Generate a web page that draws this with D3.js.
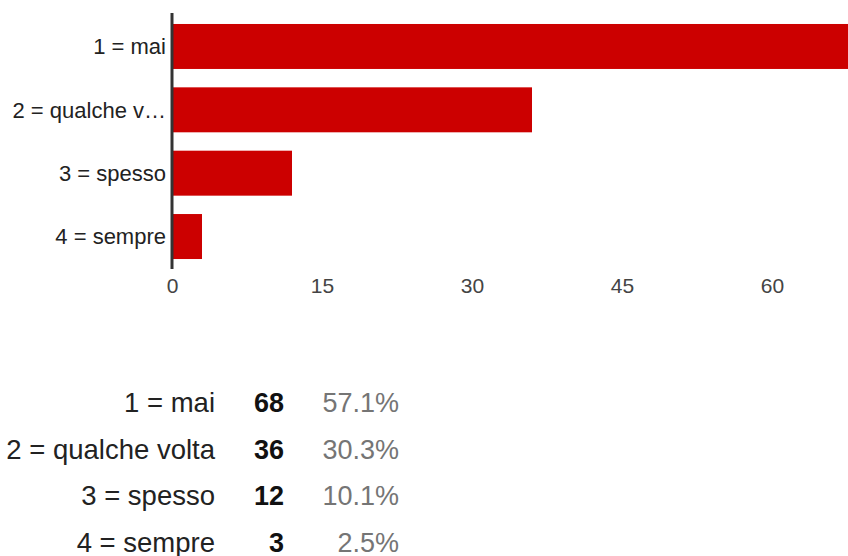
<!DOCTYPE html>
<html>
<head>
<meta charset="utf-8">
<script src="https://d3js.org/d3.v7.min.js"></script>
<style>
  body { margin: 0; background: #fff; }
  svg { display: block; font-family: Arial, "Liberation Sans", sans-serif; }
</style>
</head>
<body>
<div id="chart"></div>
<script>
// data
var categories = ['1 = mai', '2 = qualche volta', '3 = spesso', '4 = sempre'];
var shortLabels = ['1 = mai', '2 = qualche v\u2026', '3 = spesso', '4 = sempre'];
var counts = [68, 36, 12, 3];
var percents = ['57.1%', '30.3%', '10.1%', '2.5%'];
var xTicks = [0, 15, 30, 45, 60];

var W = 848, H = 556;

var svg = d3.select('#chart')
    .append('svg')
    .attr('width', W)
    .attr('height', H);

var x = d3.scaleLinear()
    .domain([0, 60])
    .range([172, 772]);

var y = d3.scaleBand()
    .domain(categories)
    .range([14.8, 268.2])
    .paddingInner(0.29)
    .paddingOuter(0.145);

// bars
svg.selectAll('.bar')
    .data(counts)
    .enter()
    .append('rect')
    .attr('class', 'bar')
    .attr('x', x(0))
    .attr('y', function(d, i) { return y(categories[i]); })
    .attr('width', function(d) { return x(d) - x(0); })
    .attr('height', y.bandwidth())
    .attr('fill', '#cc0000');

// category labels
svg.selectAll('.cat')
    .data(shortLabels)
    .enter()
    .append('text')
    .attr('class', 'cat')
    .attr('x', 166)
    .attr('y', function(d, i) { return y(categories[i]) + y.bandwidth() / 2; })
    .attr('dy', '0.35em')
    .attr('text-anchor', 'end')
    .style('font-size', '22px')
    .attr('fill', '#222')
    .text(function(d) { return d; });

// x axis labels, no domain line
var xAxis = svg.append('g')
    .attr('transform', 'translate(0,' + 293 + ')')
    .call(d3.axisBottom(x).tickValues(xTicks).tickSize(0).tickPadding(0));
xAxis.select('.domain').remove();
xAxis.selectAll('text')
    .attr('dy', '0')
    .attr('y', 0)
    .style('font-size', '21px')
    .style('font-family', 'Arial, "Liberation Sans", sans-serif')
    .attr('fill', '#444');

// baseline
svg.append('line')
    .attr('x1', x(0)).attr('x2', x(0))
    .attr('y1', 13).attr('y2', 269)
    .attr('stroke', '#333')
    .attr('stroke-width', 3);

// summary table
var rowY = d3.scalePoint()
    .domain(categories)
    .range([412, 551.5]);

var rows = svg.selectAll('.row')
    .data(categories)
    .enter()
    .append('g')
    .attr('class', 'row')
    .attr('transform', function(d) { return 'translate(0,' + rowY(d) + ')'; });

rows.append('text')
    .attr('x', 215)
    .attr('text-anchor', 'end')
    .style('font-size', '27.5px')
    .attr('fill', '#222')
    .text(function(d) { return d; });

rows.append('text')
    .attr('x', 284)
    .attr('text-anchor', 'end')
    .style('font-size', '27px')
    .style('font-weight', 'bold')
    .attr('fill', '#111')
    .text(function(d, i) { return counts[i]; });

rows.append('text')
    .attr('x', 399)
    .attr('text-anchor', 'end')
    .style('font-size', '27px')
    .attr('fill', '#757575')
    .text(function(d, i) { return percents[i]; });
</script>
</body>
</html>
